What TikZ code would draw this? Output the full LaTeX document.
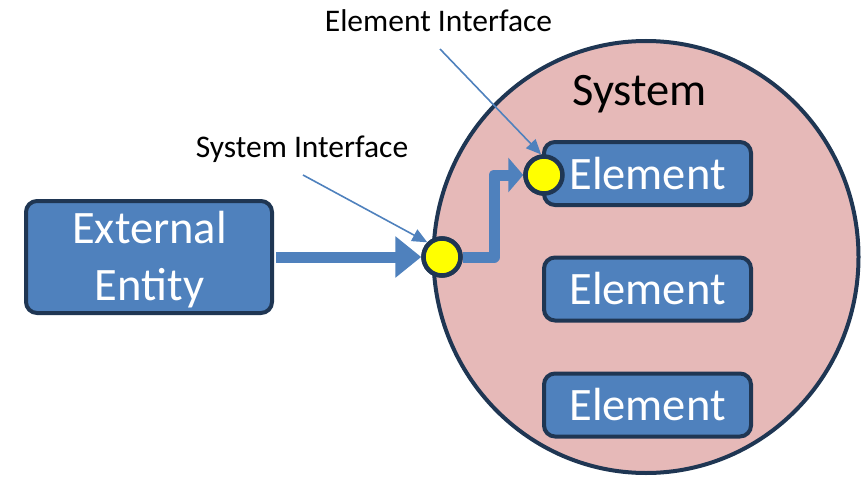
\documentclass[tikz,border=0pt]{standalone}
\usepackage{fontspec}
\setmainfont{Carlito}
\usetikzlibrary{arrows.meta,shapes.geometric}

\definecolor{boxblue}{HTML}{4F81BD}
\definecolor{navy}{HTML}{1F3653}
\definecolor{syspink}{HTML}{E6B9B8}
\definecolor{ifyellow}{HTML}{FFFF00}

\tikzset{
  bigfont/.style={font=\fontsize{46.5pt}{55pt}\selectfont},
  smallfont/.style={font=\fontsize{31.5pt}{38pt}\selectfont},
  sysdisc/.style={ellipse, draw=navy, line width=4pt, fill=syspink,
    minimum width=425pt, minimum height=432pt, inner sep=0pt},
  bluebox/.style={rounded corners=11pt, draw=navy, line width=4pt,
    fill=boxblue, inner sep=0pt},
  elembox/.style={bluebox, minimum width=207pt, minimum height=63pt,
    bigfont, text=white, text height=31pt, text depth=0pt},
  entitybox/.style={bluebox, minimum width=246pt, minimum height=112pt},
  whitetext/.style={bigfont, text=white, inner sep=0pt, anchor=base},
  port/.style={circle, draw=navy, line width=4.5pt, fill=ifyellow,
    minimum size=37pt, inner sep=0pt},
  bigflow/.style={draw=boxblue, line width=11pt, line join=round},
  pointer/.style={draw=boxblue, line width=1.6pt,
    -{Triangle[length=15pt, width=13pt]}},
  caption/.style={smallfont, text=black, inner sep=0pt, anchor=base}
}

\begin{document}
\begin{tikzpicture}[x=1pt, y=-1pt]
  \useasboundingbox (0,0) rectangle (861,476);
  \clip (0,0) rectangle (861,476);

  % the system and its title
  \node[sysdisc] (sys) at (646,257) {};
  \node[bigfont, text=black, inner sep=0pt, anchor=base] (systitle) at (639.5,106) {System};

  % interface points (defined first so the flows can end on them)
  \node[port] (sif) at (442,257) {};
  \node[port] (eif) at (544,175) {};

  % external entity
  \node[entitybox] (ext) at (149,257) {};
  \node[whitetext] (extA) at (149.5,243) {External};
  \node[whitetext] (extB) at (149.5,300) {Entity};

  % flows from the entity into the system and on to the element
  \draw[bigflow, -{Triangle[length=26pt, width=40pt]}]
    ([xshift=2pt]ext.east) -- (sif.west);
  \draw[bigflow, -{Triangle[length=15pt, width=34pt]}]
    (sif.east) -- (494,257) -- (494,175) -- (eif.west);

  % elements inside the system
  \node[elembox] (e1) at (647.5,173.5) {Element};
  \node[elembox] (e2) at (647.5,289) {Element};
  \node[elembox] (e3) at (647.5,405) {Element};

  % redraw the ports over the flows and boxes
  \node[port] at (sif) {};
  \node[port] at (eif) {};

  % captions with their pointers
  \node[caption] (eiflabel) at (438.5,32) {Element Interface};
  \node[caption] (siflabel) at (302,157) {System Interface};
  \coordinate (eifstart) at (440,49);
  \coordinate (sifstart) at (303,175);
  \draw[pointer] (eifstart) -- (eif.98);
  \draw[pointer] (sifstart) -- (sif.135);
\end{tikzpicture}
\end{document}
